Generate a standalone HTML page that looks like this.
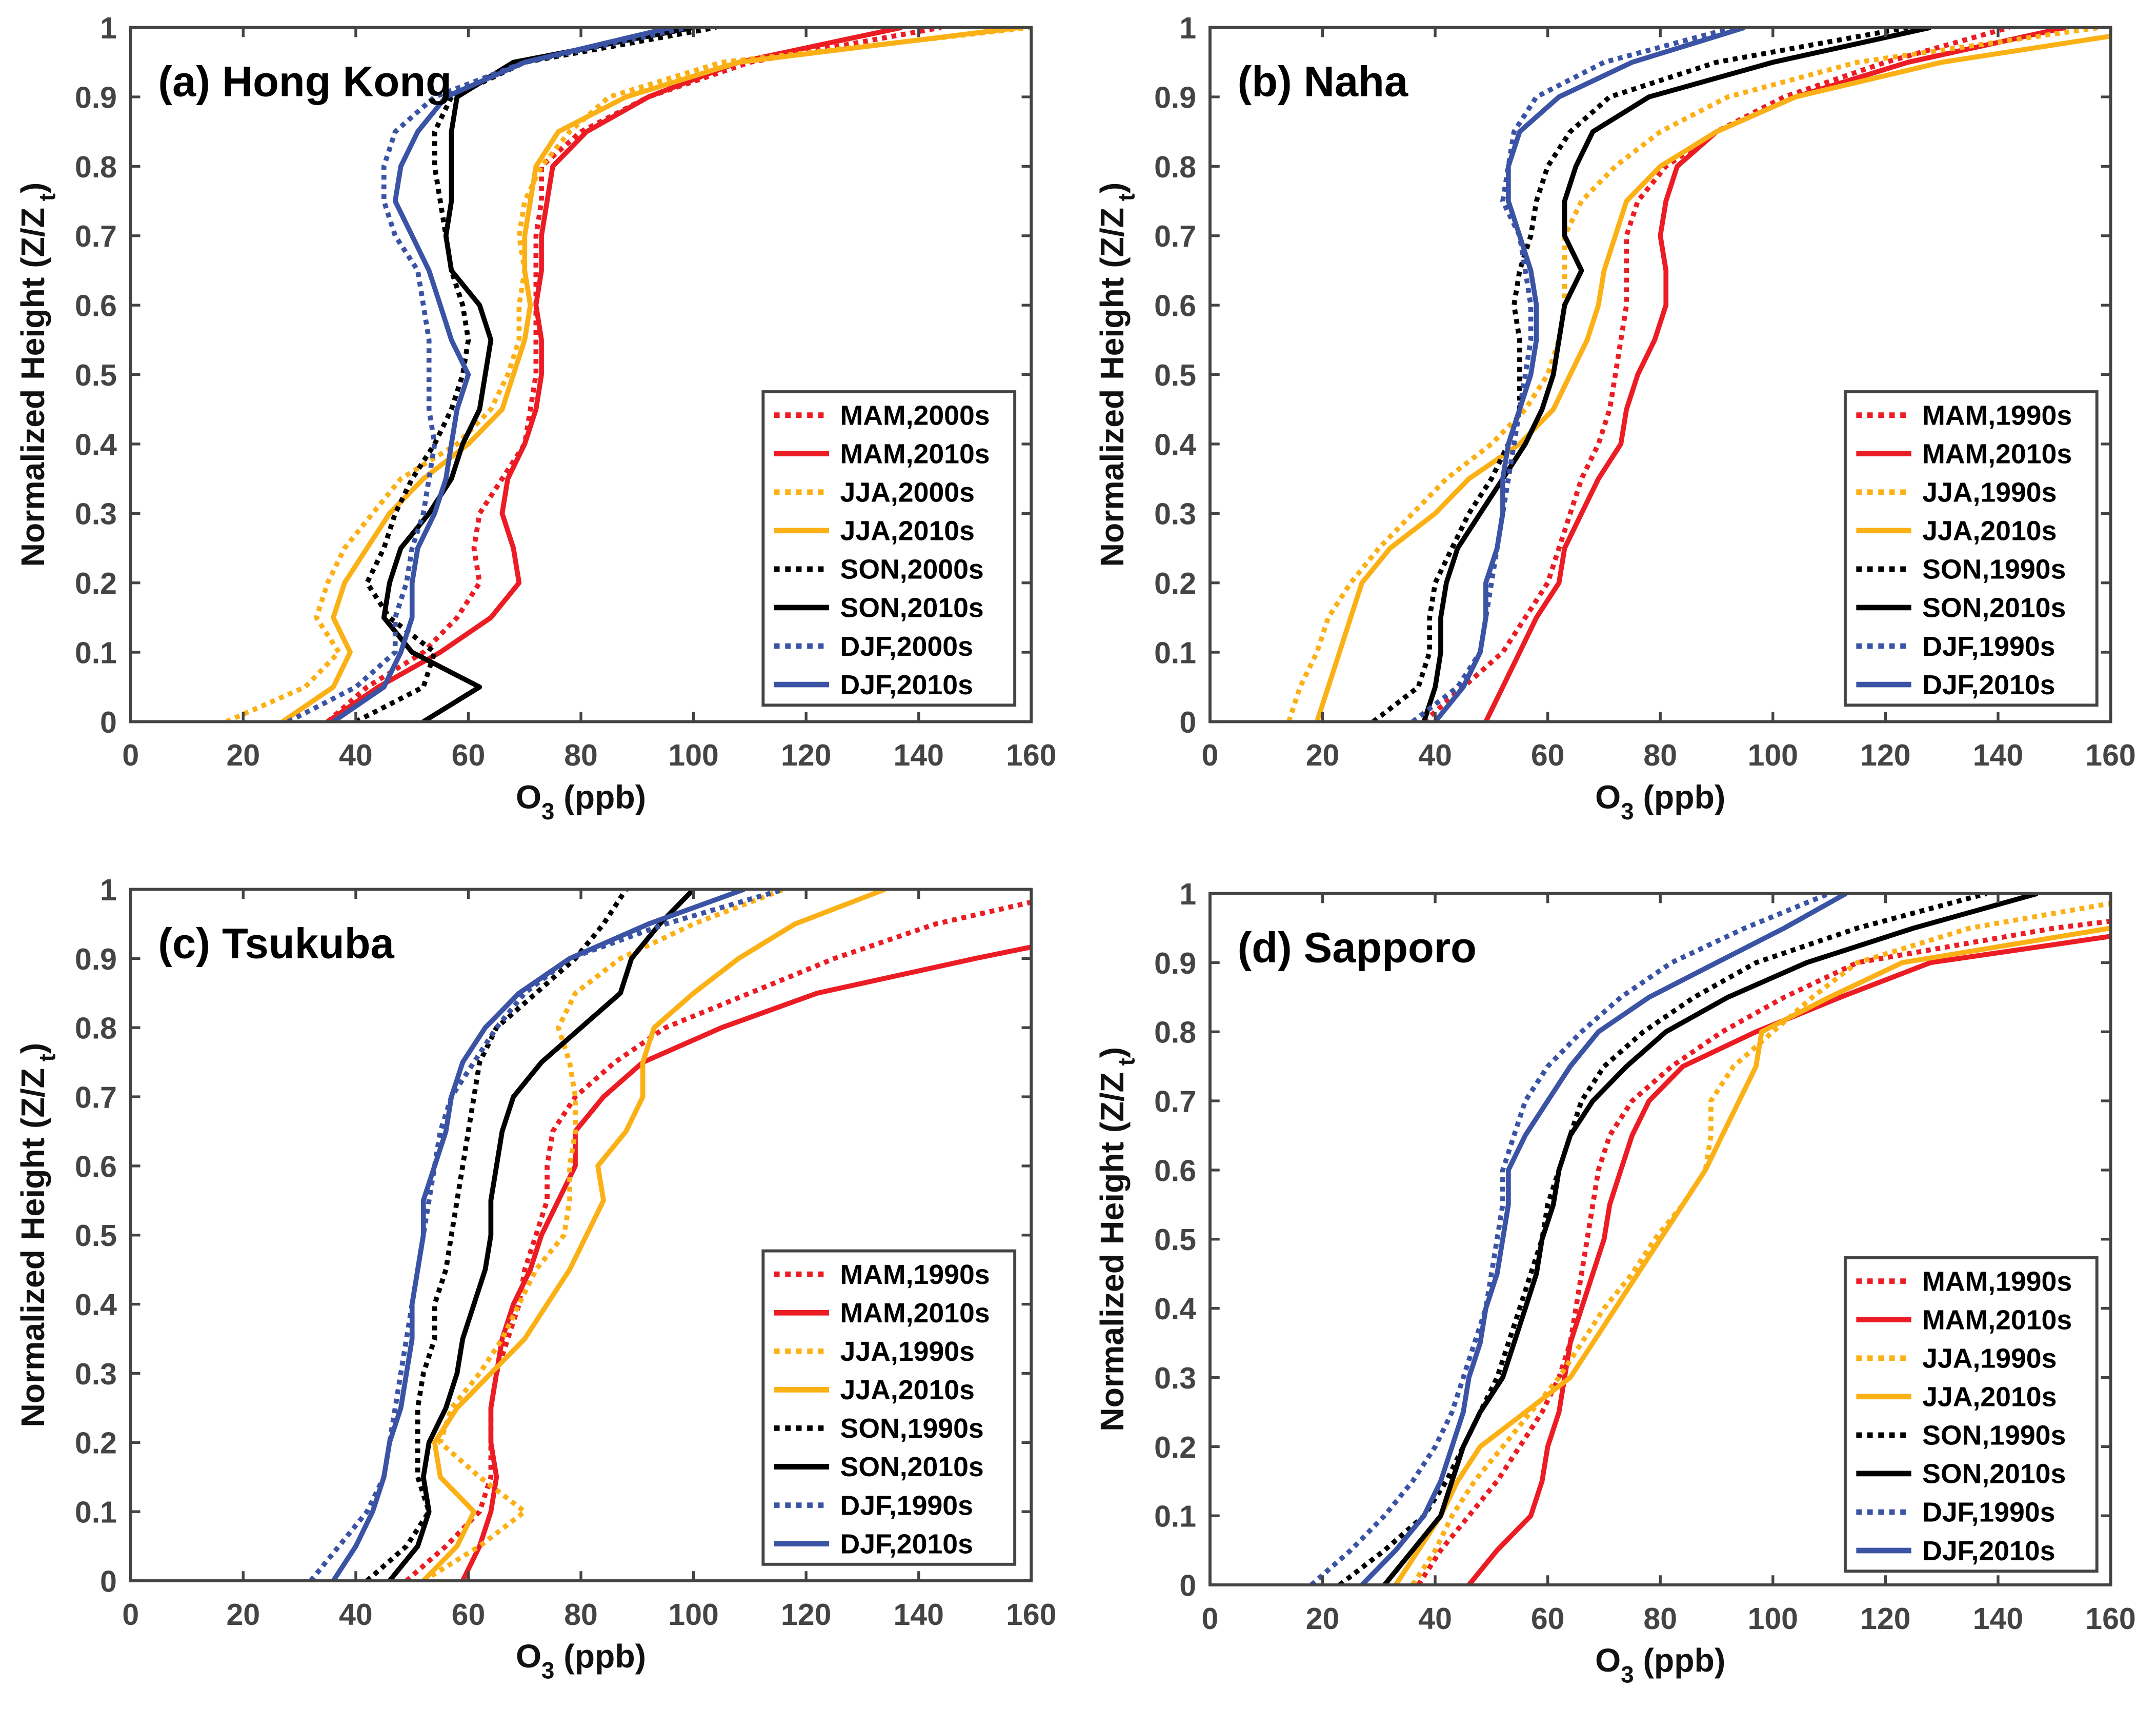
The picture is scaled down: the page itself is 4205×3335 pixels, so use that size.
<!DOCTYPE html>
<html><head><meta charset="utf-8">
<style>
html,body{margin:0;padding:0;background:#fff;}
svg{display:block;}
text{font-family:"Liberation Sans",Arial,sans-serif;font-weight:bold;}
</style></head>
<body>
<svg id="fig" xmlns="http://www.w3.org/2000/svg" width="4205" height="3335" viewBox="0 0 1568 1244" preserveAspectRatio="none"></svg>
<script>
const xTicks = [0,20,40,60,80,100,120,140,160];
const yTicks = [0,0.1,0.2,0.3,0.4,0.5,0.6,0.7,0.8,0.9,1];
const yTickLabels = ["0","0.1","0.2","0.3","0.4","0.5","0.6","0.7","0.8","0.9","1"];
const h21 = [0,0.05,0.1,0.15,0.2,0.25,0.3,0.35,0.4,0.45,0.5,0.55,0.6,0.65,0.7,0.75,0.8,0.85,0.9,0.95,1];
const seriesColors = ["#ec1c24","#ec1c24","#fbb116","#fbb116","#000000","#000000","#3a53a4","#3a53a4"];
const seriesDotted = [true,false,true,false,true,false,true,false];

// (a) Hong Kong
const hkLabels = ["MAM,2000s","MAM,2010s","JJA,2000s","JJA,2010s","SON,2000s","SON,2010s","DJF,2000s","DJF,2010s"];
const hkMAM2000 = [35,42,52,58,62,61,62,66,70,71,72,72,72,72,72,73,73,80,92,110,144];
const hkMAM2010 = [35,44,55,64,69,68,66,67,70,72,73,73,72,73,73,74,75,81,92,108,137];
const hkJJA2000 = [17,31,37,33,35,38,43,48,58,64,67,69,69,70,69,70,73,78,85,105,160];
const hkJJA2010 = [27,36,39,36,38,42,46,52,60,66,68,70,71,70,70,71,72,76,88,108,158];
const hkSON2000 = [40,52,54,46,42,45,47,50,54,57,59,60,59,57,56,55,54,54,57,70,104];
const hkSON2010 = [52,62,50,45,46,48,53,57,59,62,63,64,62,57,56,57,57,57,58,68,100];
const hkDJF2000 = [28,40,47,47,49,50,52,53,54,53,53,53,52,51,47,45,45,47,54,70,99];
const hkDJF2010 = [36,45,48,50,50,51,54,56,57,58,60,57,55,53,50,47,48,51,56,70,96];

// (b) Naha
const nhLabels = ["MAM,1990s","MAM,2010s","JJA,1990s","JJA,2010s","SON,1990s","SON,2010s","DJF,1990s","DJF,2010s"];
const nhMAM1990 = [38,45,52,56,60,62,64,66,69,71,72,73,74,74,74,76,81,90,102,120,142];
const nhMAM2010 = [49,52,55,58,62,63,66,69,73,74,76,79,81,81,80,81,83,90,104,124,152];
const nhJJA1990 = [14,16,19,21,25,30,36,42,50,56,60,62,63,63,63,66,72,80,92,115,158];
const nhJJA2010 = [19,21,23,25,27,32,40,46,55,61,64,67,69,70,72,74,80,90,104,130,170];
const nhSON1990 = [29,37,39,39,40,43,46,50,53,55,55,55,54,55,57,58,60,64,71,90,124];
const nhSON2010 = [38,40,41,41,42,44,48,52,56,59,61,62,63,66,63,63,65,68,78,100,128];
const nhDJF1990 = [36,44,48,49,50,51,52,53,54,55,56,57,57,56,55,52,53,54,58,70,93];
const nhDJF2010 = [40,45,48,49,49,51,52,52,53,55,57,58,58,57,55,53,53,55,62,75,95];

// (c) Tsukuba
const tsLabels = ["MAM,1990s","MAM,2010s","JJA,1990s","JJA,2010s","SON,1990s","SON,2010s","DJF,1990s","DJF,2010s"];
const tsMAM1990 = [49,56,62,64,64,64,65,67,69,70,72,74,74,75,79,86,95,110,125,143,170];
const tsMAM2010 = [59,62,64,65,64,64,65,66,68,71,73,76,79,79,84,91,105,122,150,180,200];
const tsJJA1990 = [52,62,70,62,55,57,62,66,69,72,77,78,78,79,79,78,76,79,87,100,116];
const tsJJA2010 = [52,58,61,55,54,58,64,70,74,78,81,84,83,88,91,91,93,100,108,118,134];
const tsSON1990 = [42,49,53,51,51,51,52,54,54,56,57,58,59,60,61,62,65,72,79,84,88];
const tsSON2010 = [46,51,53,52,53,56,58,59,61,63,64,64,65,66,68,73,80,87,89,94,100];
const tsDJF1990 = [32,37,42,45,46,47,48,49,50,51,52,53,54,55,57,61,65,70,78,95,116];
const tsDJF2010 = [36,40,43,45,46,48,49,50,50,51,52,52,54,56,57,59,63,69,78,92,109];

// (d) Sapporo
const spLabels = ["MAM,1990s","MAM,2010s","JJA,1990s","JJA,2010s","SON,1990s","SON,2010s","DJF,1990s","DJF,2010s"];
const spMAM1990 = [37,41,46,51,55,59,62,64,65,66,67,68,69,71,75,82,91,102,115,150,200];
const spMAM2010 = [46,51,57,59,60,62,63,64,66,68,70,71,73,75,78,84,97,112,128,170,220];
const spJJA1990 = [36,40,43,47,52,57,62,66,70,75,79,84,88,89,89,93,100,107,115,135,170];
const spJJA2010 = [33,37,41,44,48,56,64,68,72,76,80,84,88,91,94,97,98,110,123,160,200];
const spSON1990 = [23,31,38,42,45,48,51,53,55,57,59,60,62,64,66,70,77,86,97,115,138];
const spSON2010 = [31,36,41,43,45,48,52,54,56,58,59,61,62,64,68,74,81,92,106,125,147];
const spDJF1990 = [18,25,31,36,40,43,45,47,49,50,51,52,52,54,56,60,66,73,82,95,110];
const spDJF2010 = [27,33,38,41,43,45,46,48,49,51,52,53,53,56,60,64,69,78,90,102,113];

const panels = [
 {id:"hong-kong", title:"(a) Hong Kong", x0:95, x1:750, yTop:20, yBot:525, lx:555, ly:285, labels:hkLabels,
  series:[hkMAM2000,hkMAM2010,hkJJA2000,hkJJA2010,hkSON2000,hkSON2010,hkDJF2000,hkDJF2010]},
 {id:"naha", title:"(b) Naha", x0:880, x1:1535, yTop:20, yBot:525, lx:1342, ly:285, labels:nhLabels,
  series:[nhMAM1990,nhMAM2010,nhJJA1990,nhJJA2010,nhSON1990,nhSON2010,nhDJF1990,nhDJF2010]},
 {id:"tsukuba", title:"(c) Tsukuba", x0:95, x1:750, yTop:647, yBot:1150, lx:555, ly:910, labels:tsLabels,
  series:[tsMAM1990,tsMAM2010,tsJJA1990,tsJJA2010,tsSON1990,tsSON2010,tsDJF1990,tsDJF2010]},
 {id:"sapporo", title:"(d) Sapporo", x0:880, x1:1535, yTop:650, yBot:1153, lx:1342, ly:915, labels:spLabels,
  series:[spMAM1990,spMAM2010,spJJA1990,spJJA2010,spSON1990,spSON2010,spDJF1990,spDJF2010]}
];

const NS="http://www.w3.org/2000/svg";
const svg=document.getElementById('fig');
function mk(tag,attrs,parent){const e=document.createElementNS(NS,tag);for(const k in attrs)e.setAttribute(k,attrs[k]);(parent||svg).appendChild(e);return e;}
const AX="#444444";
panels.forEach((p,pi)=>{
  const g=mk('g',{});
  
  
  const sx=v=>p.x0+(v/160)*(p.x1-p.x0);
  const sy=v=>p.yBot-v*(p.yBot-p.yTop);
  const cp=mk('clipPath',{id:'clip'+pi},g);
  mk('rect',{x:p.x0,y:p.yTop,width:p.x1-p.x0,height:p.yBot-p.yTop},cp);
  const sg=mk('g',{'clip-path':'url(#clip'+pi+')'},g);
  p.series.forEach((vals,si)=>{
    let d='';
    vals.forEach((v,i)=>{d+=(i?'L':'M')+sx(v).toFixed(1)+','+sy(h21[i]).toFixed(1);});
    const path=mk('path',{d:d,fill:'none',stroke:seriesColors[si],'stroke-width':3.6,'stroke-linejoin':'round'},sg);
    if(seriesDotted[si]) path.setAttribute('stroke-dasharray','3.5 3.5');
    
    
  });
  const box=mk('rect',{x:p.x0,y:p.yTop,width:p.x1-p.x0,height:p.yBot-p.yTop,fill:'none',stroke:AX,'stroke-width':2.2},g);
  
  
  xTicks.forEach(t=>{
    const x=sx(t);
    mk('line',{x1:x,x2:x,y1:p.yBot,y2:p.yBot-7,stroke:AX,'stroke-width':2},g);
    mk('line',{x1:x,x2:x,y1:p.yTop,y2:p.yTop+7,stroke:AX,'stroke-width':2},g);
    const tx=mk('text',{x:x,y:p.yBot+32,'text-anchor':'middle','font-size':22,fill:AX},g);
    tx.textContent=t;
    
    
  });
  yTicks.forEach((t,i)=>{
    const y=sy(t);
    mk('line',{x1:p.x0,x2:p.x0+7,y1:y,y2:y,stroke:AX,'stroke-width':2},g);
    mk('line',{x1:p.x1,x2:p.x1-7,y1:y,y2:y,stroke:AX,'stroke-width':2},g);
    const ty=mk('text',{x:p.x0-10,y:y+8,'text-anchor':'end','font-size':22,fill:AX},g);
    ty.textContent=yTickLabels[i];
    
    
  });
  const cx=(p.x0+p.x1)/2;
  const xt=mk('text',{x:cx,y:p.yBot+63,'text-anchor':'middle','font-size':24,fill:'#111'},g);
  xt.innerHTML='O<tspan font-size="17" dy="8">3</tspan><tspan dy="-8"> (ppb)</tspan>';
  
  
  const cy=(p.yTop+p.yBot)/2;
  const yt=mk('text',{x:0,y:0,'text-anchor':'middle','font-size':24,fill:'#111',transform:'translate('+(p.x0-63)+','+cy+') rotate(-90)'},g);
  yt.innerHTML='Normalized Height (Z/Z<tspan font-size="17" dy="8"> t</tspan><tspan dy="-8">)</tspan>';
  
  
  const tt=mk('text',{x:p.x0+20,y:p.yTop+50,'font-size':31,fill:'#000'},g);
  tt.textContent=p.title;
  
  
  const lg=mk('g',{},g);
  
  
  mk('rect',{x:p.lx,y:p.ly,width:183,height:228,fill:'#fff',stroke:AX,'stroke-width':2.2},lg);
  p.labels.forEach((lab,i)=>{
    const y=p.ly+17+i*28;
    const ln=mk('line',{x1:p.lx+8,x2:p.lx+48,y1:y,y2:y,stroke:seriesColors[i],'stroke-width':4},lg);
    if(seriesDotted[i]) ln.setAttribute('stroke-dasharray','4 4');
    const lt=mk('text',{x:p.lx+56,y:y+7,'font-size':20,fill:'#000'},lg);
    lt.textContent=lab;
    
    
  });
});
</script>
</body></html>
